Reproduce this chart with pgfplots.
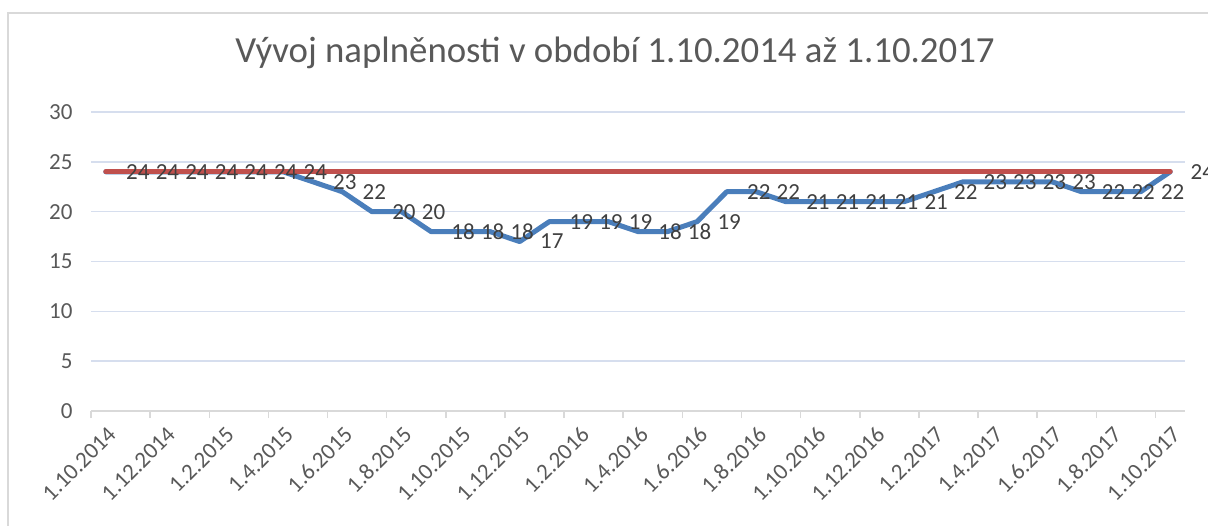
\documentclass[border=0pt]{standalone}
\usepackage{fontspec}
\setmainfont{Carlito}
\usepackage{pgfplots}
\pgfplotsset{compat=1.18}
\definecolor{lblue}{HTML}{4A7EBB}
\definecolor{lred}{HTML}{C0504D}
\definecolor{gridc}{HTML}{D6DEEE}
\definecolor{axc}{HTML}{D9D9D9}
\definecolor{txt}{HTML}{595959}
\definecolor{lbl}{HTML}{404040}
\begin{document}
\begin{tikzpicture}
\useasboundingbox (0,0) rectangle (604pt,262.5pt);
\draw[axc, line width=0.75pt] (4pt,-1pt) -- (4pt,256pt) -- (605pt,256pt);
\node[anchor=base, text=txt, font=\fontsize{18.4}{21}\selectfont] at (307.5pt,231pt) {Vývoj naplněnosti v období 1.10.2014 až 1.10.2017};
\begin{axis}[
 at={(45.5pt,57pt)}, anchor=south west,
 scale only axis, width=547pt, height=149.5pt,
 xmin=0, xmax=37, ymin=0, ymax=30,
 clip=false,
 axis x line=bottom, axis y line=left,
 x axis line style={draw=axc, line width=0.75pt, -},
 y axis line style={draw=none},
 ytick={0,5,...,30}, ytick style={draw=none},
 xtick={0,2,...,36},
 xticklabels={1.10.2014,1.12.2014,1.2.2015,1.4.2015,1.6.2015,1.8.2015,1.10.2015,1.12.2015,1.2.2016,1.4.2016,1.6.2016,1.8.2016,1.10.2016,1.12.2016,1.2.2017,1.4.2017,1.6.2017,1.8.2017,1.10.2017},
 xtick align=outside, major tick length=3.5pt,
 xtick style={draw=axc, line width=0.75pt},
 ymajorgrids, grid style={draw=gridc, line width=0.75pt},
 tick label style={font=\fontsize{11.5}{13}\selectfont, text=txt},
 yticklabel style={xshift=-4pt},
 xticklabel style={xshift=13pt, yshift=-4pt, rotate=45, anchor=east},
 /pgf/number format/assume math mode=true,
]
\addplot[lblue, line width=2.5pt, line join=round, line cap=round] coordinates {
(0.5,24)(1.5,24)(2.5,24)(3.5,24)(4.5,24)(5.5,24)(6.5,24)(7.5,23)(8.5,22)(9.5,20)
(10.5,20)(11.5,18)(12.5,18)(13.5,18)(14.5,17)(15.5,19)(16.5,19)(17.5,19)(18.5,18)(19.5,18)
(20.5,19)(21.5,22)(22.5,22)(23.5,21)(24.5,21)(25.5,21)(26.5,21)(27.5,21)(28.5,22)(29.5,23)
(30.5,23)(31.5,23)(32.5,23)(33.5,22)(34.5,22)(35.5,22)(36.5,24)};
\addplot[lred, line width=2.5pt, line cap=round] coordinates {
(0.5,24)(1.5,24)(2.5,24)(3.5,24)(4.5,24)(5.5,24)(6.5,24)(7.5,24)(8.5,24)(9.5,24)
(10.5,24)(11.5,24)(12.5,24)(13.5,24)(14.5,24)(15.5,24)(16.5,24)(17.5,24)(18.5,24)(19.5,24)
(20.5,24)(21.5,24)(22.5,24)(23.5,24)(24.5,24)(25.5,24)(26.5,24)(27.5,24)(28.5,24)(29.5,24)
(30.5,24)(31.5,24)(32.5,24)(33.5,24)(34.5,24)(35.5,24)(36.5,24)};
\addplot[draw=none, nodes near coords, every node near coord/.append style={anchor=west, xshift=10pt, inner sep=0pt, font=\fontsize{11.5}{13}\selectfont, text=lbl}] coordinates {
(0.5,24)(1.5,24)(2.5,24)(3.5,24)(4.5,24)(5.5,24)(6.5,24)(7.5,23)(8.5,22)(9.5,20)
(10.5,20)(11.5,18)(12.5,18)(13.5,18)(14.5,17)(15.5,19)(16.5,19)(17.5,19)(18.5,18)(19.5,18)
(20.5,19)(21.5,22)(22.5,22)(23.5,21)(24.5,21)(25.5,21)(26.5,21)(27.5,21)(28.5,22)(29.5,23)
(30.5,23)(31.5,23)(32.5,23)(33.5,22)(34.5,22)(35.5,22)(36.5,24)};
\end{axis}
\end{tikzpicture}
\end{document}
